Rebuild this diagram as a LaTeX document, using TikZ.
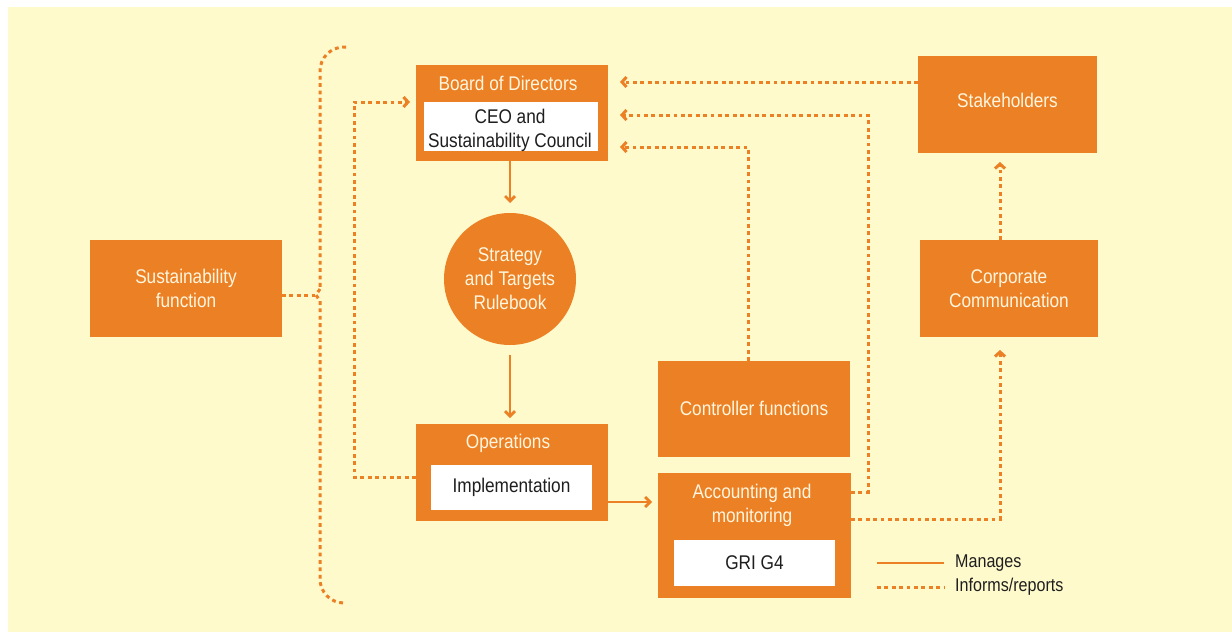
\documentclass[tikz,border=0pt]{standalone}
\usepackage{fontspec}
\setmainfont{Liberation Sans}[FakeStretch=0.87]
\usetikzlibrary{arrows.meta}
\definecolor{og}{RGB}{236,128,37}
\definecolor{bgy}{RGB}{255,250,204}
\definecolor{wt}{RGB}{255,246,222}
\definecolor{tx}{RGB}{30,30,30}
\newcommand{\mainsize}{\fontsize{19.8}{24}\selectfont}
\tikzset{
  obox/.style={fill=og, inner sep=0pt, outer sep=0pt},
  wbox/.style={fill=white, inner sep=0pt, outer sep=0pt, text=tx, align=center, font=\mainsize},
  wtitle/.style={text=wt, align=center, inner sep=0pt, font=\mainsize},
  btext/.style={text=tx, align=center, inner sep=0pt, font=\mainsize},
  manage/.style={draw=og, line width=2.7pt, -{Straight Barb[length=5pt,width=10pt]}},
  inform/.style={draw=og, line width=3pt, dash pattern=on 3.8pt off 3.6pt},
  informarrow/.style={inform, -{Straight Barb[length=4.5pt,width=10pt]}},
  legtext/.style={anchor=west, text=tx, inner sep=0pt, font=\fontsize{18.5}{22}\selectfont}
}
\begin{document}
\begin{tikzpicture}[x=1pt,y=-1pt]
\useasboundingbox (0,0) rectangle (1232,632);
\fill[bgy] (8,7) rectangle (1232,632);

% Board of Directors
\node[obox, minimum width=192pt, minimum height=96pt] (board) at (512,113) {};
\node[wtitle] (boardt) at (508,83) {Board of Directors};
\node[wbox, minimum width=174pt, minimum height=49pt] (ceo) at (511,126.5) {};
\node[btext] (ceot) at (510,130.5) {CEO and\\Sustainability Council};

% Strategy circle
\node[circle, fill=og, minimum size=132pt, inner sep=0pt, outer sep=0pt, text=wt, align=center, font=\mainsize] (strat) at (510,279) {Strategy\\and Targets\\Rulebook};

% Operations
\node[obox, minimum width=192pt, minimum height=97pt] (ops) at (512,472.5) {};
\node[wtitle] (opst) at (508,443) {Operations};
\node[wbox, minimum width=161pt, minimum height=45pt] (impl) at (511.5,487.5) {Implementation};

% Controller functions
\node[obox, minimum width=192pt, minimum height=96pt, text=wt, font=\mainsize] (ctrl) at (754,409) {\raisebox{2pt}{Controller functions}};

% Accounting and monitoring
\node[obox, minimum width=193pt, minimum height=125pt] (acc) at (754.5,535.5) {};
\node[wtitle] (acct) at (752,505) {Accounting and\\monitoring};
\node[wbox, minimum width=161pt, minimum height=46pt] (gri) at (754.5,563) {GRI G4};

% Stakeholders
\node[obox, minimum width=179pt, minimum height=97pt, text=wt, font=\mainsize] (stake) at (1007.5,104.5) {\raisebox{9pt}{Stakeholders}};

% Corporate Communication
\node[obox, minimum width=178pt, minimum height=97pt, text=wt, align=center, font=\mainsize] (corp) at (1009,288.5) {Corporate\\Communication};

% Sustainability function
\node[obox, minimum width=192pt, minimum height=97pt, text=wt, align=center, font=\mainsize] (sust) at (186,288.5) {Sustainability\\function};

% Manages arrows
\draw[manage, shorten >=10pt] (board.south -| strat.north) -- (strat.north);
\draw[manage, shorten <=10pt, shorten >=6pt] (strat.south) -- (strat.south |- ops.north);
\draw[manage, shorten >=6pt] (ops.east |- 0,502) -- (acc.west |- 0,502);

% Informs arrows
\draw[informarrow, shorten >=12pt] (stake.west |- 0,82) -- (board.east |- 0,82);
\coordinate (r1) at (868,115);
\draw[informarrow, shorten >=12pt] (acc.east |- 0,492) -| (r1) -- (board.east |- r1);
\coordinate (r2) at (748,147);
\draw[informarrow, shorten >=12pt] (ctrl.north -| r2) -- (r2) -- (board.east |- r2);
\coordinate (r3) at (1000,519);
\draw[informarrow, shorten >=13pt] (acc.east |- r3) -- (r3) -- (corp.south -| r3);
\draw[informarrow, shorten >=9pt] (corp.north -| r3) -- (stake.south -| r3);
\coordinate (r4) at (354,477);
\draw[informarrow, shorten >=6pt] (ops.west |- r4) -- (r4) |- (board.west |- 0,102);

% Brace
\coordinate (bt) at (346,47);
\coordinate (bm1) at (320,289);
\coordinate (bp) at (316,295);
\coordinate (bm2) at (320,301);
\coordinate (bb) at (346,603);
\draw[inform, rounded corners=24pt] (bt) -| (bm1);
\draw[inform] (bm1) -- (bp) -- (bm2);
\draw[inform, rounded corners=24pt] (bm2) |- (bb);
\draw[inform] (sust.east |- bp) -- (bp);

% Legend
\coordinate (l1a) at (877,563);
\coordinate (l1b) at (944,563);
\coordinate (l2a) at (877,587);
\coordinate (l2b) at (944,587);
\draw[draw=og, line width=2.7pt] (l1a) -- (l1b);
\draw[inform] (l2a) -- (l2b);
\node[legtext] (lt1) at (955,563) {Manages};
\node[legtext] (lt2) at (955,587) {Informs/reports};
\end{tikzpicture}
\end{document}
